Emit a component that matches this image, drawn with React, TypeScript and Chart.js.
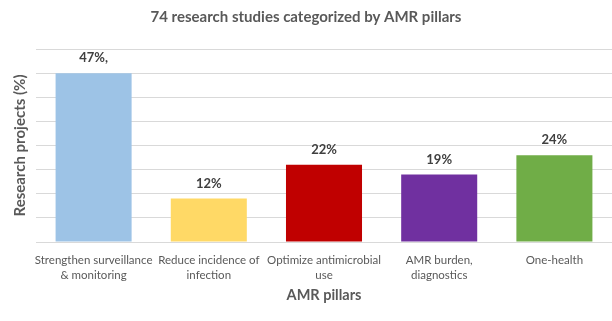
import React, { useEffect, useRef } from "react";
import { Chart, registerables } from "chart.js";

Chart.register(...registerables);

const categories: string[][] = [
  ["Strengthen surveillance", "& monitoring"],
  ["Reduce incidence of", "infection"],
  ["Optimize antimicrobial", "use"],
  ["AMR burden,", "diagnostics"],
  ["One-health"],
];
const studyCounts: number[] = [35, 9, 16, 14, 18];
const valueLabels: string[] = ["47%,", "12%", "22%", "19%", "24%"];
const barColors: string[] = ["#9DC3E6", "#FFD966", "#C00000", "#7030A0", "#70AD47"];

const FONT = "Lato, 'Open Sans', sans-serif";

const labelPlugin = {
  id: "valueLabels",
  afterDatasetsDraw(chart: any) {
    const ctx = chart.ctx;
    const meta = chart.getDatasetMeta(0);
    ctx.save();
    ctx.font = `bold 13px ${FONT}`;
    ctx.fillStyle = "#404040";
    ctx.textAlign = "center";
    ctx.textBaseline = "middle";
    meta.data.forEach((bar: any, i: number) => {
      ctx.fillText(valueLabels[i], bar.x, bar.y - 15);
    });
    ctx.restore();
  },
};

export default function App() {
  const ref = useRef<HTMLCanvasElement>(null);
  useEffect(() => {
    document.body.style.margin = "0";
    const chart = new Chart(ref.current!, {
      type: "bar",
      data: {
        labels: categories,
        datasets: [
          {
            data: studyCounts,
            backgroundColor: barColors,
            categoryPercentage: 1,
            barPercentage: 0.66,
          },
        ],
      },
      options: {
        animation: false,
        responsive: false,
        layout: { padding: { left: 0, right: 0, top: 0, bottom: 0 } },
        plugins: {
          legend: { display: false },
          tooltip: { enabled: false },
          title: {
            display: true,
            text: "74 research studies categorized by AMR pillars",
            color: "#595959",
            font: { family: FONT, size: 15, weight: "bold" },
            padding: { top: 8, bottom: 23 },
          },
        },
        scales: {
          x: {
            grid: { display: false },
            border: { display: false },
            ticks: {
              color: "#595959",
              font: { family: FONT, size: 11.5, lineHeight: 1.3 },
              padding: 3,
              maxRotation: 0,
              autoSkip: false,
            },
            title: {
              display: true,
              text: "AMR pillars",
              color: "#595959",
              font: { family: FONT, size: 14.5, weight: "bold" },
              padding: { top: 0, bottom: 17 },
            },
            afterFit(scale: any) {
              scale.height = 79;
            },
          },
          y: {
            min: 0,
            max: 40,
            ticks: { display: false, stepSize: 5 },
            grid: { color: "#D9D9D9", drawTicks: false, lineWidth: 1 },
            border: { display: false },
            title: {
              display: true,
              text: "Research projects (%)",
              color: "#595959",
              font: { family: FONT, size: 15, weight: "bold" },
              padding: { top: 11, bottom: 0 },
            },
            afterFit(scale: any) {
              scale.width = 36;
            },
          },
        },
      },
      plugins: [labelPlugin],
    });
    return () => chart.destroy();
  }, []);
  return (
    <div style={{ width: 612, height: 321 }}>
      <canvas ref={ref} width={612} height={321} style={{ display: "block" }} />
    </div>
  );
}
